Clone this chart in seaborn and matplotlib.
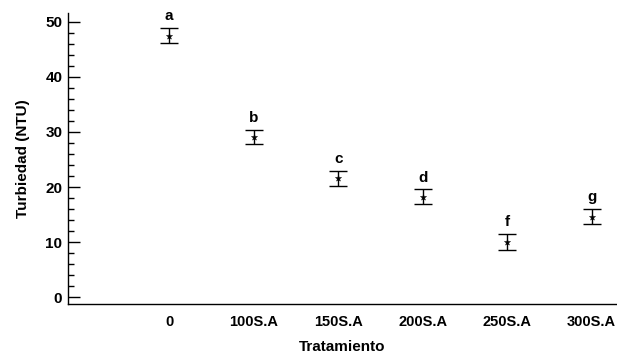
import matplotlib
matplotlib.use("Agg")
import matplotlib.pyplot as plt
from matplotlib.ticker import MultipleLocator
import seaborn as sns
import pandas as pd

# Turbidity per treatment (mean ± error) with significance letters
tratamientos = ["0", "100S.A", "150S.A", "200S.A", "250S.A", "300S.A"]
turbiedad = [47.5, 29.1, 21.6, 18.2, 10.0, 14.6]
error = [1.4, 1.3, 1.4, 1.35, 1.4, 1.35]
letras = ["a", "b", "c", "d", "f", "g"]

df = pd.DataFrame({"Tratamiento": tratamientos, "Turbiedad": turbiedad, "err": error})

sns.set_theme(style="ticks")
plt.rcParams["font.family"] = ["Liberation Sans", "DejaVu Sans"]
plt.rcParams.update({
    "font.weight": "bold",
    "text.color": "black",
    "axes.labelcolor": "black",
    "xtick.color": "black",
    "ytick.color": "black",
})

fig = plt.figure(figsize=(6.17, 3.56), dpi=100)
ax = fig.add_axes([0.110, 0.146, 0.890, 0.817])

ax.errorbar(range(len(tratamientos)), df["Turbiedad"], yerr=df["err"], fmt="none",
            ecolor="black", elinewidth=1.0, capsize=6.2, capthick=1.0, zorder=2)
sns.scatterplot(data=df, x="Tratamiento", y="Turbiedad", marker="*", s=22,
                color="black", edgecolor="black", linewidth=0.3, ax=ax, zorder=3)

for i, (m, e, l) in enumerate(zip(turbiedad, error, letras)):
    ax.annotate(l, (i, m + e), xytext=(0, 3.5), textcoords="offset points",
                ha="center", va="bottom", fontsize=11, fontweight="bold", color="black")

ax.set_xlim(-1.2, 5.3)
ax.set_ylim(-1.27, 51.6)
ax.yaxis.set_major_locator(MultipleLocator(10))
ax.yaxis.set_minor_locator(MultipleLocator(2))
ax.tick_params(axis="y", which="major", direction="in", length=8.6, width=1.0,
               labelsize=11, pad=4, color="black", labelcolor="black")
ax.tick_params(axis="y", which="minor", direction="in", length=4.3, width=1.0, color="black")
ax.tick_params(axis="x", which="both", length=0, labelsize=10.5, pad=8, labelcolor="black")
for lab in ax.get_xticklabels() + ax.get_yticklabels():
    lab.set_fontweight("bold")

sns.despine(ax=ax)
for s in ["left", "bottom"]:
    ax.spines[s].set_linewidth(1.0)
    ax.spines[s].set_color("black")

ax.set_xlabel("Tratamiento", fontsize=11, fontweight="bold", labelpad=8, color="black")
ax.set_ylabel("Turbiedad (NTU)", fontsize=11, fontweight="bold", labelpad=11, color="black")

fig.savefig("out.png", dpi=100)
